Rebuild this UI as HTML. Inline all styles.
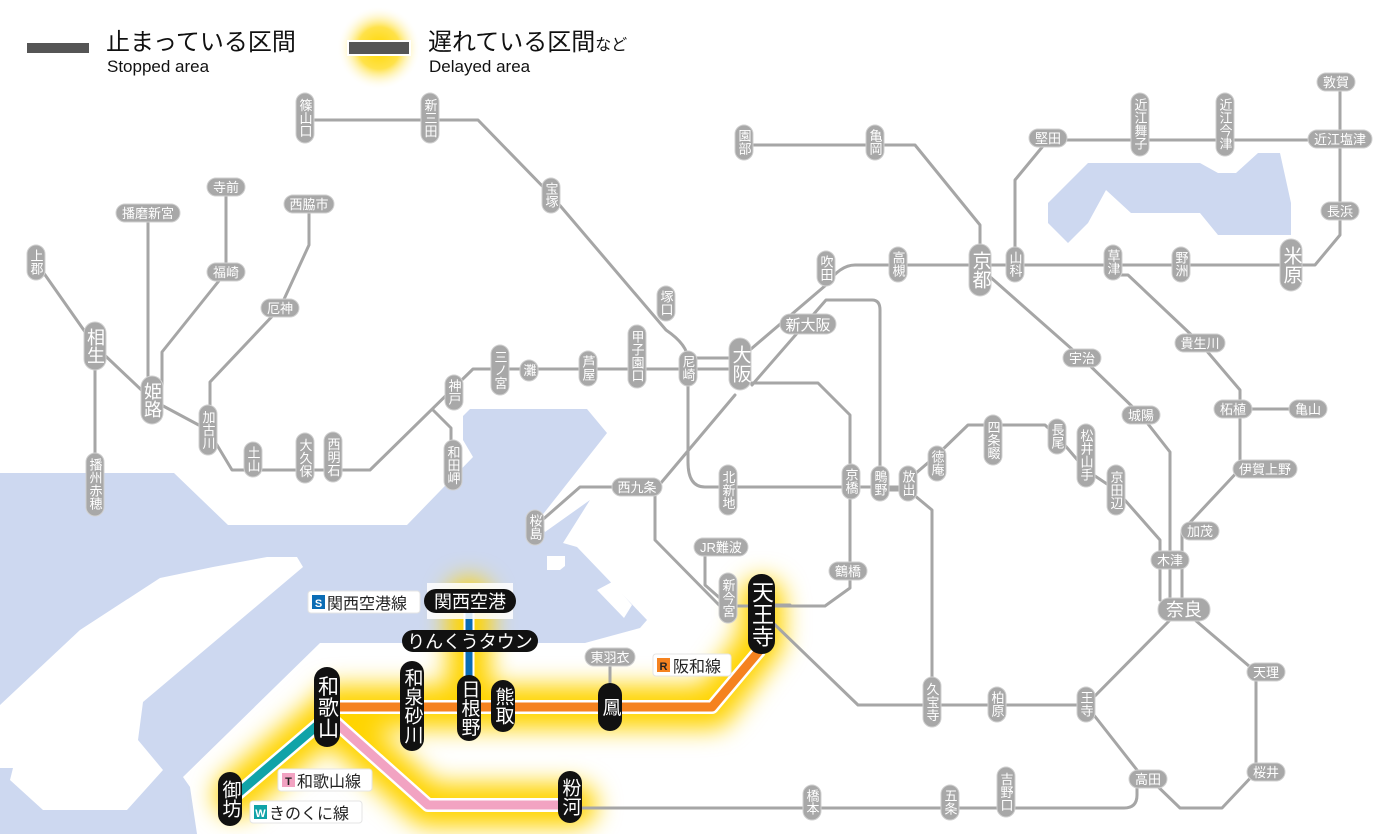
<!DOCTYPE html>
<html><head><meta charset="utf-8"><style>
html,body{margin:0;padding:0;background:#fff;}
svg{display:block;font-family:"Liberation Sans","Noto Sans CJK JP",sans-serif;}
.ln{fill:none;stroke:#a6a6a6;stroke-width:3;stroke-linejoin:round;stroke-linecap:round}
.gp{fill:#a8a8a8;stroke:#d0d0d0;stroke-width:1}
.gt{fill:#fff;font-size:13px}
.v{writing-mode:tb;text-anchor:middle;}
.h{text-anchor:middle;}
.bk{fill:#111}
.wt{fill:#fff;font-size:19px}
.lab{fill:#fff;stroke:#e4e4e4;stroke-width:1}
</style></head><body>
<svg width="1400" height="834" viewBox="0 0 1400 834" xmlns="http://www.w3.org/2000/svg">
<defs>
<filter id="blur" x="-30%" y="-30%" width="160%" height="160%"><feGaussianBlur stdDeviation="12"/></filter>
<radialGradient id="lg" cx="50%" cy="50%" r="50%"><stop offset="0" stop-color="#ffd700"/><stop offset="0.5" stop-color="#ffe24a"/><stop offset="1" stop-color="#fff" stop-opacity="0"/></radialGradient>
</defs>

<path fill="#cdd8f0" d="M0,473 H174 L228,525 H407 L473,457 L463,440 V416 L470,409 H587 L607,433 L540,518 L545,532 L590,500 L563,543 L577,547 L647,620 L640,628 L585,643 H320 L183,777 L190,787 L197,834 H0 Z"/>
<path fill="#fff" d="M0,705 L80,630 L160,578 L213,567 L267,557 H297 L303,567 L143,702 L138,740 L163,770 L127,810 H43 L10,780 L13,768 H0 Z"/>
<path fill="#fff" d="M547,556 H565 V566 L560,570 H547 Z M597,590 L612,582 L632,605 L624,618 Z"/>
<path fill="#cdd8f0" d="M1088,163 H1200 L1218,173 H1236 L1258,153 H1280 L1291,203 V235 H1218 L1200,213 H1131 L1106,190 L1088,223 L1068,243 L1048,223 V203 Z"/>

<g filter="url(#blur)" stroke="#ffd400" fill="none" stroke-width="44" stroke-linejoin="round" stroke-linecap="round">
<path d="M335,707 H712 L762,640 V600"/>
<path d="M326,718 L236,795"/>
<path d="M335,722 L428,805 H575"/>
<path d="M469,600 V700"/>
</g>
<circle cx="379" cy="48" r="42" fill="url(#lg)"/>

<g class="ln">
<path d="M305,120 H478 L551,195 L666,330 Q688,345 688,360"/>
<path d="M36,262 L95,346 L152,400 L208,430"/>
<path d="M95,346 V484"/>
<path d="M148,213 V400"/>
<path d="M226,187 V272 L162,352 V400"/>
<path d="M309,204 V245 L280,308 L210,382 V430"/>
<path d="M208,430 L232,470 H370 L473,369 H740"/>
<path d="M433,410 L451,428 V465"/>
<path d="M688,358 H740"/>
<path d="M688,368 V462 Q688,487 705,487 H908"/>
<path d="M740,383 H818 L850,415 V588 L825,606 H720 L655,540 V490 L735,395"/>
<path d="M655,487 H580 L540,522"/>
<path d="M705,547 V585 L722,600"/>
<path d="M744,355 L826,285 Q840,265 855,265 H1315 L1340,235 V82"/>
<path d="M752,385 L826,300 H872 Q880,300 880,310 V483"/>
<path d="M744,145 H915 L980,225 V265"/>
<path d="M1015,264 V180 L1048,140 H1340"/>
<path d="M988,275 L1082,358 L1141,415 L1170,452 V605"/>
<path d="M1113,275 H1128 L1200,343 L1240,390 V469 L1182,531 V605"/>
<path d="M1240,409 H1308"/>
<path d="M880,490 H908 L932,510 V702"/>
<path d="M908,480 L937,455 L968,425 H1045 L1057,436 L1086,470 L1116,490 L1160,540 V600"/>
<path d="M770,620 L858,705 H1086 L1170,620"/>
<path d="M1086,705 L1137,770 V795 Q1137,808 1124,808 H580"/>
<path d="M1195,620 L1256,672 V772 L1222,808 H1180 L1150,779"/>
<path d="M610,657 V690"/>
<path d="M761,605 H790"/>
</g>

<g fill="none" stroke-linejoin="round">
<path d="M335,707 H712 L760,650" stroke="#fff" stroke-width="14"/>
<path d="M335,707 H712 L760,650" stroke="#f5821f" stroke-width="9"/>
<path d="M326,718 L236,795" stroke="#fff" stroke-width="14"/>
<path d="M326,718 L236,795" stroke="#10a3a8" stroke-width="9"/>
<path d="M335,722 L428,805 H572" stroke="#fff" stroke-width="14"/>
<path d="M335,722 L428,805 H572" stroke="#f2a3c2" stroke-width="9"/>
<path d="M469,601 V700" stroke="#fff" stroke-width="11"/>
<path d="M469,601 V700" stroke="#0a6cb5" stroke-width="7"/>
</g>

<g>
<rect class="gp" x="296" y="93" width="18" height="50" rx="9"/><text class="gt v" x="305" y="118">篠山口</text>
<rect class="gp" x="421" y="93" width="18" height="50" rx="9"/><text class="gt v" x="430" y="118">新三田</text>
<rect class="gp" x="542" y="178" width="18" height="35" rx="9"/><text class="gt v" x="551" y="195">宝塚</text>
<rect class="gp" x="657" y="286" width="18" height="35" rx="9"/><text class="gt v" x="666" y="303">塚口</text>
<rect class="gp" x="628" y="325" width="18" height="63" rx="9"/><text class="gt v" x="637" y="356">甲子園口</text>
<rect class="gp" x="579" y="351" width="18" height="35" rx="9"/><text class="gt v" x="588" y="368">芦屋</text>
<rect class="gp" x="520" y="360" width="18" height="21" rx="9"/><text class="gt v" x="529" y="370">灘</text>
<rect class="gp" x="491" y="345" width="18" height="50" rx="9"/><text class="gt v" x="500" y="370">三ノ宮</text>
<rect class="gp" x="445" y="375" width="18" height="35" rx="9"/><text class="gt v" x="454" y="392">神戸</text>
<rect class="gp" x="679" y="351" width="18" height="35" rx="9"/><text class="gt v" x="688" y="368">尼崎</text>
<rect class="gp" x="27" y="245" width="18" height="35" rx="9"/><text class="gt v" x="36" y="262">上郡</text>
<rect class="gp" x="86" y="453" width="18" height="63" rx="9"/><text class="gt v" x="95" y="484">播州赤穂</text>
<rect class="gp" x="199" y="405" width="18" height="50" rx="9"/><text class="gt v" x="208" y="430">加古川</text>
<rect class="gp" x="244" y="442" width="18" height="35" rx="9"/><text class="gt v" x="253" y="459">土山</text>
<rect class="gp" x="296" y="433" width="18" height="50" rx="9"/><text class="gt v" x="305" y="458">大久保</text>
<rect class="gp" x="324" y="432" width="18" height="50" rx="9"/><text class="gt v" x="333" y="457">西明石</text>
<rect class="gp" x="444" y="440" width="18" height="50" rx="9"/><text class="gt v" x="453" y="465">和田岬</text>
<rect class="gp" x="719" y="465" width="18" height="50" rx="9"/><text class="gt v" x="728" y="490">北新地</text>
<rect class="gp" x="842" y="464" width="18" height="35" rx="9"/><text class="gt v" x="851" y="481">京橋</text>
<rect class="gp" x="871" y="466" width="18" height="35" rx="9"/><text class="gt v" x="880" y="483">鴫野</text>
<rect class="gp" x="899" y="466" width="18" height="35" rx="9"/><text class="gt v" x="908" y="483">放出</text>
<rect class="gp" x="928" y="446" width="18" height="35" rx="9"/><text class="gt v" x="937" y="463">徳庵</text>
<rect class="gp" x="984" y="415" width="18" height="50" rx="9"/><text class="gt v" x="993" y="440">四条畷</text>
<rect class="gp" x="1048" y="419" width="18" height="35" rx="9"/><text class="gt v" x="1057" y="436">長尾</text>
<rect class="gp" x="1077" y="424" width="18" height="63" rx="9"/><text class="gt v" x="1086" y="455">松井山手</text>
<rect class="gp" x="1107" y="465" width="18" height="50" rx="9"/><text class="gt v" x="1116" y="490">京田辺</text>
<rect class="gp" x="735" y="125" width="18" height="35" rx="9"/><text class="gt v" x="744" y="142">園部</text>
<rect class="gp" x="866" y="125" width="18" height="35" rx="9"/><text class="gt v" x="875" y="142">亀岡</text>
<rect class="gp" x="817" y="251" width="18" height="35" rx="9"/><text class="gt v" x="826" y="268">吹田</text>
<rect class="gp" x="889" y="247" width="18" height="35" rx="9"/><text class="gt v" x="898" y="264">高槻</text>
<rect class="gp" x="1006" y="247" width="18" height="35" rx="9"/><text class="gt v" x="1015" y="264">山科</text>
<rect class="gp" x="1104" y="245" width="18" height="35" rx="9"/><text class="gt v" x="1113" y="262">草津</text>
<rect class="gp" x="1172" y="247" width="18" height="35" rx="9"/><text class="gt v" x="1181" y="264">野洲</text>
<rect class="gp" x="1131" y="93" width="18" height="63" rx="9"/><text class="gt v" x="1140" y="124">近江舞子</text>
<rect class="gp" x="1216" y="93" width="18" height="63" rx="9"/><text class="gt v" x="1225" y="124">近江今津</text>
<rect class="gp" x="526" y="510" width="18" height="35" rx="9"/><text class="gt v" x="535" y="527">桜島</text>
<rect class="gp" x="719" y="573" width="18" height="50" rx="9"/><text class="gt v" x="728" y="598">新今宮</text>
<rect class="gp" x="923" y="677" width="18" height="50" rx="9"/><text class="gt v" x="932" y="702">久宝寺</text>
<rect class="gp" x="988" y="687" width="18" height="35" rx="9"/><text class="gt v" x="997" y="704">柏原</text>
<rect class="gp" x="1077" y="687" width="18" height="35" rx="9"/><text class="gt v" x="1086" y="704">王寺</text>
<rect class="gp" x="803" y="785" width="18" height="35" rx="9"/><text class="gt v" x="812" y="802">橋本</text>
<rect class="gp" x="941" y="785" width="18" height="35" rx="9"/><text class="gt v" x="950" y="802">五条</text>
<rect class="gp" x="997" y="767" width="18" height="50" rx="9"/><text class="gt v" x="1006" y="792">吉野口</text>
<rect class="gp" x="84" y="322" width="22" height="48" rx="11"/><text class="gt v" x="95" y="346" style="font-size:18px">相生</text>
<rect class="gp" x="141" y="376" width="22" height="48" rx="11"/><text class="gt v" x="152" y="400" style="font-size:18px">姫路</text>
<rect class="gp" x="969" y="244" width="22" height="52" rx="11"/><text class="gt v" x="980" y="270" style="font-size:19px">京都</text>
<rect class="gp" x="1280" y="239" width="22" height="52" rx="11"/><text class="gt v" x="1291" y="265" style="font-size:19px">米原</text>
<rect class="gp" x="729" y="338" width="22" height="52" rx="11"/><text class="gt v" x="740" y="364" style="font-size:19px">大阪</text>
</g>

<g>
<rect class="gp" x="207" y="178" width="38" height="18" rx="9"/><text class="gt h" x="226" y="192">寺前</text>
<rect class="gp" x="116" y="204" width="64" height="18" rx="9"/><text class="gt h" x="148" y="218">播磨新宮</text>
<rect class="gp" x="284" y="195" width="50" height="18" rx="9"/><text class="gt h" x="309" y="209">西脇市</text>
<rect class="gp" x="207" y="263" width="38" height="18" rx="9"/><text class="gt h" x="226" y="277">福崎</text>
<rect class="gp" x="261" y="299" width="38" height="18" rx="9"/><text class="gt h" x="280" y="313">厄神</text>
<rect class="gp" x="612" y="478" width="50" height="18" rx="9"/><text class="gt h" x="637" y="492">西九条</text>
<rect class="gp" x="694" y="538" width="54" height="18" rx="9"/><text class="gt h" x="721" y="552">JR難波</text>
<rect class="gp" x="829" y="562" width="38" height="18" rx="9"/><text class="gt h" x="848" y="576">鶴橋</text>
<rect class="gp" x="1063" y="349" width="38" height="18" rx="9"/><text class="gt h" x="1082" y="363">宇治</text>
<rect class="gp" x="1122" y="406" width="38" height="18" rx="9"/><text class="gt h" x="1141" y="420">城陽</text>
<rect class="gp" x="1175" y="334" width="50" height="18" rx="9"/><text class="gt h" x="1200" y="348">貴生川</text>
<rect class="gp" x="1214" y="400" width="38" height="18" rx="9"/><text class="gt h" x="1233" y="414">柘植</text>
<rect class="gp" x="1289" y="400" width="38" height="18" rx="9"/><text class="gt h" x="1308" y="414">亀山</text>
<rect class="gp" x="1233" y="460" width="64" height="18" rx="9"/><text class="gt h" x="1265" y="474">伊賀上野</text>
<rect class="gp" x="1181" y="522" width="38" height="18" rx="9"/><text class="gt h" x="1200" y="536">加茂</text>
<rect class="gp" x="1151" y="551" width="38" height="18" rx="9"/><text class="gt h" x="1170" y="565">木津</text>
<rect class="gp" x="1247" y="663" width="38" height="18" rx="9"/><text class="gt h" x="1266" y="677">天理</text>
<rect class="gp" x="1247" y="763" width="38" height="18" rx="9"/><text class="gt h" x="1266" y="777">桜井</text>
<rect class="gp" x="1129" y="770" width="38" height="18" rx="9"/><text class="gt h" x="1148" y="784">高田</text>
<rect class="gp" x="1029" y="129" width="38" height="18" rx="9"/><text class="gt h" x="1048" y="143">堅田</text>
<rect class="gp" x="1308" y="130" width="64" height="18" rx="9"/><text class="gt h" x="1340" y="144">近江塩津</text>
<rect class="gp" x="1321" y="202" width="38" height="18" rx="9"/><text class="gt h" x="1340" y="216">長浜</text>
<rect class="gp" x="1317" y="73" width="38" height="18" rx="9"/><text class="gt h" x="1336" y="87">敦賀</text>
<rect class="gp" x="585" y="648" width="50" height="18" rx="9"/><text class="gt h" x="610" y="662">東羽衣</text>
<rect class="gp" x="780" y="314" width="56" height="20" rx="10"/><text class="gt h" x="808" y="330" style="font-size:15px">新大阪</text>
<rect class="gp" x="1158" y="598" width="52" height="23" rx="11"/><text class="gt h" x="1184" y="616" style="font-size:18px">奈良</text>
</g>

<g>
<rect class="lab" x="308" y="591" width="112" height="22" rx="3"/>
<rect x="312" y="595" width="13" height="14" fill="#0a6cb5"/><text x="318.5" y="607" class="h" fill="#fff" font-size="11" font-weight="bold">S</text>
<text x="327" y="609" font-size="16" fill="#222">関西空港線</text>
<rect class="lab" x="653" y="654" width="78" height="22" rx="3"/>
<rect x="657" y="658" width="13" height="14" fill="#f5821f"/><text x="663.5" y="670" class="h" fill="#222" font-size="11" font-weight="bold">R</text>
<text x="673" y="672" font-size="16" fill="#222">阪和線</text>
<rect class="lab" x="278" y="769" width="94" height="22" rx="3"/>
<rect x="282" y="773" width="13" height="14" fill="#f2a3c2"/><text x="288.5" y="785" class="h" fill="#222" font-size="11" font-weight="bold">T</text>
<text x="297" y="787" font-size="16" fill="#222">和歌山線</text>
<rect class="lab" x="250" y="801" width="112" height="22" rx="3"/>
<rect x="254" y="805" width="13" height="14" fill="#10a3a8"/><text x="260.5" y="817" class="h" fill="#fff" font-size="11" font-weight="bold">W</text>
<text x="269" y="819" font-size="16" fill="#222">きのくに線</text>
</g>

<g>
<rect x="427" y="583" width="86" height="36" fill="#fff" opacity="0.85"/>
<rect class="bk" x="424" y="589" width="92" height="24" rx="12"/><text class="wt h" x="470" y="608" style="font-size:18px">関西空港</text>
<rect class="bk" x="402" y="630" width="136" height="22" rx="11"/><text class="wt h" x="470" y="648" style="font-size:18px">りんくうタウン</text>
<rect class="bk" x="748" y="574" width="27" height="80" rx="13"/><text class="wt v" x="761.5" y="614" style="font-size:22px">天王寺</text>
<rect class="bk" x="314" y="667" width="26" height="80" rx="13"/><text class="wt v" x="327" y="707" style="font-size:21px">和歌山</text>
<rect class="bk" x="400" y="661" width="24" height="90" rx="12"/><text class="wt v" x="412" y="706" style="font-size:19px">和泉砂川</text>
<rect class="bk" x="457" y="675" width="24" height="66" rx="12"/><text class="wt v" x="469" y="708" style="font-size:19px">日根野</text>
<rect class="bk" x="491" y="680" width="24" height="52" rx="12"/><text class="wt v" x="503" y="706" style="font-size:19px">熊取</text>
<rect class="bk" x="598" y="683" width="24" height="48" rx="12"/><text class="wt v" x="610" y="707" style="font-size:19px">鳳</text>
<rect class="bk" x="558" y="771" width="24" height="52" rx="12"/><text class="wt v" x="570" y="797" style="font-size:19px">粉河</text>
<rect class="bk" x="218" y="772" width="24" height="54" rx="12"/><text class="wt v" x="230" y="799" style="font-size:19px">御坊</text>
</g>

<rect x="27" y="43" width="62" height="10" fill="#555"/>
<text x="106" y="50" font-size="24" fill="#111">止まっている区間</text>
<text x="107" y="72" font-size="17" fill="#111">Stopped area</text>
<rect x="347" y="40" width="64" height="16" fill="#fff"/>
<rect x="349" y="42" width="60" height="12" fill="#555"/>
<text x="428" y="50" font-size="24" fill="#111">遅れている区間<tspan font-size="16">など</tspan></text>
<text x="429" y="72" font-size="17" fill="#111">Delayed area</text>
</svg>
</body></html>
